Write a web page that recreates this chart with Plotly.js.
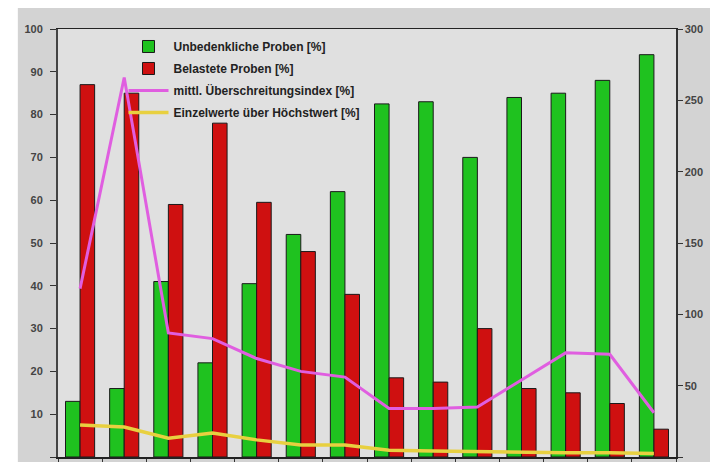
<!DOCTYPE html>
<html>
<head>
<meta charset="utf-8">
<script src="https://cdn.plot.ly/plotly-3.0.1.min.js"></script>
<style>html,body{margin:0;padding:0;background:#fff;}#chart{width:710px;height:462px;}</style>
</head>
<body>
<div id="chart"></div>
<script>
// Data
var categories = ['1','2','3','4','5','6','7','8','9','10','11','12','13','14'];
var unbedenklich = [13, 16, 41, 22, 40.5, 52, 62, 82.5, 83, 70, 84, 85, 88, 94];
var belastet     = [87, 85, 59, 78, 59.5, 48, 38, 18.5, 17.5, 30, 16, 15, 12.5, 6.5];
var uebIndex     = [118, 266, 87, 83, 69, 60, 56, 34, 34, 35, 54, 73, 72, 31];
var einzelwerte  = [7.5, 7.0, 4.4, 5.6, 4.0, 2.8, 2.8, 1.6, 1.4, 1.2, 1.2, 1.0, 1.0, 0.8];
var leftTicks  = [0,10,20,30,40,50,60,70,80,90,100];
var rightTicks = [0,50,100,150,200,250,300];
var names = ['Unbedenkliche Proben [%]', 'Belastete Proben [%]',
             'mittl. Überschreitungsindex [%]', 'Einzelwerte über Höchstwert [%]'];

var font = {family: 'Liberation Sans, Arial, sans-serif', size: 10, color: '#333', weight: 'bold'};

var traces = [
  {type: 'bar', name: names[0], x: categories, y: unbedenklich, legendgroup: 'a',
   marker: {color: '#1fc21f', line: {color: '#1a1a1a', width: 1}}},
  {type: 'bar', name: names[1], x: categories, y: belastet, legendgroup: 'b',
   marker: {color: '#cf1010', line: {color: '#1a1a1a', width: 1}}},
  {type: 'scatter', mode: 'lines', name: names[2], x: categories, y: uebIndex, yaxis: 'y2',
   legendgroup: 'c', line: {color: '#e05ee0', width: 3}},
  {type: 'scatter', mode: 'lines', name: names[3], x: categories, y: einzelwerte,
   legendgroup: 'd', line: {color: '#e8d040', width: 3.5}}
];

var layout = {
  width: 710, height: 462,
  margin: {l: 58, r: 34, t: 29, b: 5},
  paper_bgcolor: '#d3d3d3',
  plot_bgcolor: '#e0e0e0',
  font: font,
  showlegend: true,
  barmode: 'group', bargap: 0.34, bargroupgap: 0,
  legend: {x: 0.106, y: 0.993, xanchor: 'left', yanchor: 'top', bgcolor: 'rgba(0,0,0,0)',
           font: {family: 'Liberation Sans, Arial, sans-serif', size: 12, color: '#222', weight: 'bold'},
           tracegroupgap: 3, itemwidth: 40},
  xaxis: {type: 'category', showticklabels: false, ticks: 'outside', tickson: 'boundaries',
          ticklen: 4, tickcolor: '#333', showline: true, linecolor: '#222', linewidth: 1.5,
          mirror: true, showgrid: false, zeroline: false},
  yaxis: {range: [0, 100], tickvals: leftTicks, ticks: 'outside', ticklen: 6, tickcolor: '#333',
          ticklabelstandoff: 5,
          showline: true, linecolor: '#444', linewidth: 2, showgrid: false, zeroline: false,
          tickfont: {size: 11, color: '#444', weight: 'bold'}},
  yaxis2: {range: [0, 300], tickvals: rightTicks, overlaying: 'y', side: 'right', ticks: 'outside',
           ticklen: 5, tickcolor: '#333', showline: true, linecolor: '#333', linewidth: 1.5,
           showgrid: false, zeroline: false, tickfont: {size: 11, color: '#444', weight: 'bold'}},
  shapes: [
    {type: 'rect', xref: 'paper', yref: 'paper', x0: -0.1, x1: 1.1, y0: 1.049, y1: 1.1,
     fillcolor: '#ffffff', line: {width: 0}, layer: 'below'},
    {type: 'rect', xref: 'paper', yref: 'paper', x0: -0.1, x1: -0.065, y0: -0.1, y1: 1.1,
     fillcolor: '#ffffff', line: {width: 0}, layer: 'below'}
  ]
};

Plotly.newPlot('chart', traces, layout, {displayModeBar: false, staticPlot: true});
</script>
</body>
</html>
